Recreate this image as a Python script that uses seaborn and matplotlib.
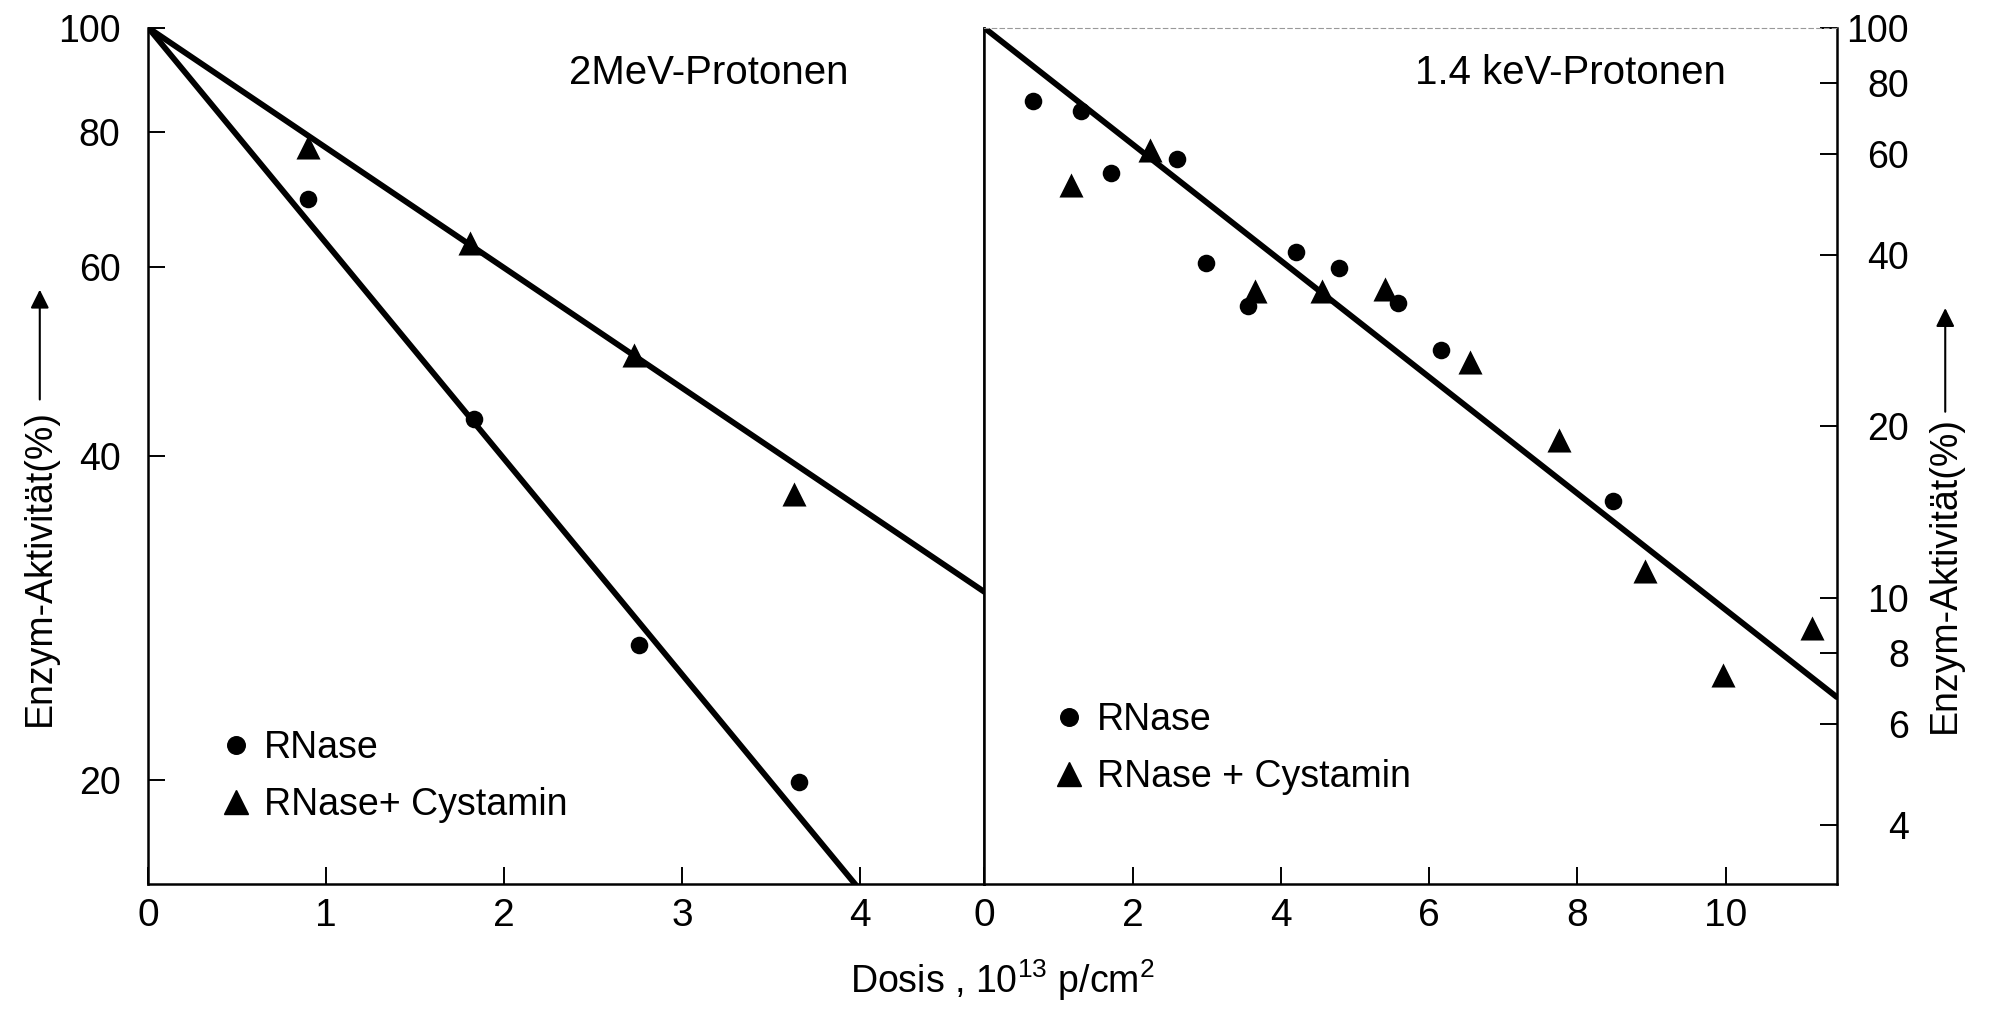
import matplotlib
matplotlib.use('Agg')
import matplotlib.pyplot as plt
from matplotlib.lines import Line2D
from matplotlib.ticker import FixedLocator, NullLocator, FixedFormatter
import numpy as np
import pandas as pd
import seaborn as sns

# ========================================================================
# DATA
# ========================================================================
# 2 MeV protons (left panel)
mev_rnase_dose = [0.90, 1.83, 2.76, 3.66]
mev_rnase_act = [69.4, 43.3, 26.7, 19.9]
mev_cyst_dose = [0.90, 1.81, 2.73, 3.63]
mev_cyst_act = [77.5, 63.1, 49.6, 36.9]
# fitted lines (start / end of each line)
mev_fit_rnase_dose = [0.0, 4.0]
mev_fit_rnase_act = [100.0, 15.8]
mev_fit_cyst_dose = [0.0, 4.7]
mev_fit_cyst_act = [100.0, 29.9]

# 1.4 keV protons (right panel)
kev_rnase_dose = [0.65, 1.30, 1.71, 2.60, 2.99, 3.56, 4.21, 4.79, 5.58, 6.16, 8.48]
kev_rnase_act = [74.3, 71.4, 55.6, 58.9, 38.7, 32.5, 40.4, 37.9, 32.9, 27.2, 14.8]
kev_cyst_dose = [1.17, 2.23, 3.65, 4.56, 5.40, 6.55, 7.75, 8.91, 9.97, 11.16]
kev_cyst_act = [53.0, 61.0, 34.5, 34.6, 34.9, 25.9, 18.9, 11.15, 7.34, 8.87]
kev_fit_dose = [0.0, 11.5]
kev_fit_act = [100.0, 6.7]

left_yticks = [20, 40, 60, 80, 100]
right_yticks = [4, 6, 8, 10, 20, 40, 60, 80, 100]
left_xticks = [0, 1, 2, 3, 4]
right_xticks = [0, 2, 4, 6, 8, 10]

# ========================================================================
# STYLE
# ========================================================================
sns.set_style('ticks')
plt.rcParams['font.family'] = ['Liberation Sans', 'DejaVu Sans']
plt.rcParams['mathtext.default'] = 'regular'
for key in ['text.color', 'axes.labelcolor', 'xtick.color', 'ytick.color', 'axes.edgecolor']:
    plt.rcParams[key] = 'black'
plt.rcParams['axes.linewidth'] = 1.8

fig = plt.figure(figsize=(19.89, 10.21), dpi=100)
ax1 = fig.add_axes([0.0746, 0.1342, 0.4203, 0.8385])
ax2 = fig.add_axes([0.4949, 0.1342, 0.4286, 0.8385])

CIRCLE_S = 160
TRI_S = 300
LEG_FS = 27


def draw_panel(ax, r_dose, r_act, c_dose, c_act, fits):
    # FIT LINES
    for fx, fy in fits:
        sns.lineplot(x=fx, y=fy, ax=ax, color='black', linewidth=4.2,
                     estimator=None, sort=False, legend=False)
    # MEASURED POINTS
    sns.scatterplot(x=r_dose, y=r_act, ax=ax, marker='o', s=CIRCLE_S,
                    color='black', linewidth=0, legend=False, zorder=3)
    sns.scatterplot(x=c_dose, y=c_act, ax=ax, marker='^', s=TRI_S,
                    color='black', linewidth=0, legend=False, zorder=3)
    ax.set_yscale('log')
    ax.yaxis.set_minor_locator(NullLocator())
    ax.set_xlabel('')
    ax.set_ylabel('')
    ax.grid(False)


def legend_handles():
    return [Line2D([], [], marker='o', ls='', color='black', markersize=CIRCLE_S ** 0.5),
            Line2D([], [], marker='^', ls='', color='black', markersize=TRI_S ** 0.5)]


# ========================================================================
# LEFT PANEL
# ========================================================================
draw_panel(ax1, mev_rnase_dose, mev_rnase_act, mev_cyst_dose, mev_cyst_act,
           [(mev_fit_rnase_dose, mev_fit_rnase_act), (mev_fit_cyst_dose, mev_fit_cyst_act)])
ax1.set_xlim(0, 4.7)
ax1.set_ylim(16, 100)
ax1.yaxis.set_major_locator(FixedLocator(left_yticks))
ax1.yaxis.set_major_formatter(FixedFormatter([str(v) for v in left_yticks]))
ax1.set_xticks(left_xticks)
ax1.set_xticklabels([str(v) for v in left_xticks])
ax1.tick_params(axis='both', direction='in', length=12, width=1.4, color='black')
ax1.tick_params(axis='y', labelsize=27, pad=20)
ax1.tick_params(axis='x', labelsize=28, pad=10)
ax1.spines['top'].set_visible(False)
ax1.text(0.67, 0.947, '2MeV-Protonen', transform=ax1.transAxes,
         ha='center', va='center', fontsize=29)
ax1.legend(legend_handles(), ['RNase', 'RNase+ Cystamin'], loc='upper left',
           bbox_to_anchor=(0.06, 0.197), borderaxespad=0, frameon=False,
           fontsize=LEG_FS, handletextpad=0.15, labelspacing=0.55, handlelength=1.2)

# ========================================================================
# RIGHT PANEL
# ========================================================================
draw_panel(ax2, kev_rnase_dose, kev_rnase_act, kev_cyst_dose, kev_cyst_act,
           [(kev_fit_dose, kev_fit_act)])
ax2.set_xlim(0, 11.5)
ax2.set_ylim(3.15, 100)
ax2.yaxis.set_major_locator(FixedLocator(right_yticks))
ax2.yaxis.set_major_formatter(FixedFormatter([str(v) for v in right_yticks]))
ax2.set_xticks(right_xticks)
ax2.set_xticklabels([str(v) for v in right_xticks])
ax2.yaxis.tick_right()
ax2.tick_params(axis='both', direction='in', length=12, width=1.4, color='black')
ax2.tick_params(axis='y', labelsize=27, pad=52, left=False, right=True,
                labelleft=False, labelright=True)
ax2.tick_params(axis='x', labelsize=28, pad=10)
for lbl in ax2.get_yticklabels():
    lbl.set_horizontalalignment('right')
ax2.spines['top'].set_linestyle((0, (4, 3)))
ax2.spines['top'].set_linewidth(0.8)
ax2.spines['top'].set_color('#999999')
ax2.text(0.687, 0.947, '1.4 keV-Protonen', transform=ax2.transAxes,
         ha='center', va='center', fontsize=29)
ax2.legend(legend_handles(), ['RNase', 'RNase + Cystamin'], loc='upper left',
           bbox_to_anchor=(0.055, 0.230), borderaxespad=0, frameon=False,
           fontsize=LEG_FS, handletextpad=0.15, labelspacing=0.55, handlelength=1.2)

# ========================================================================
# AXIS LABELS WITH ARROWS
# ========================================================================
fig.text(0.504, 0.027, 'Dosis , 10$^{13}$ p/cm$^{2}$', ha='center', va='baseline', fontsize=27)

fig.text(0.020, 0.4445, 'Enzym-Aktivität(%)', rotation=90,
         ha='center', va='center', fontsize=27)
ax1.annotate('', xy=(0.020, 0.719), xytext=(0.020, 0.606), xycoords='figure fraction',
             textcoords='figure fraction',
             arrowprops=dict(arrowstyle='-|>', color='black', lw=1.5, mutation_scale=28))

fig.text(0.978, 0.437, 'Enzym-Aktivität(%)', rotation=90,
         ha='center', va='center', fontsize=27)
ax2.annotate('', xy=(0.978, 0.701), xytext=(0.978, 0.594), xycoords='figure fraction',
             textcoords='figure fraction',
             arrowprops=dict(arrowstyle='-|>', color='black', lw=1.5, mutation_scale=28))

plt.savefig('out.png', dpi=100)
